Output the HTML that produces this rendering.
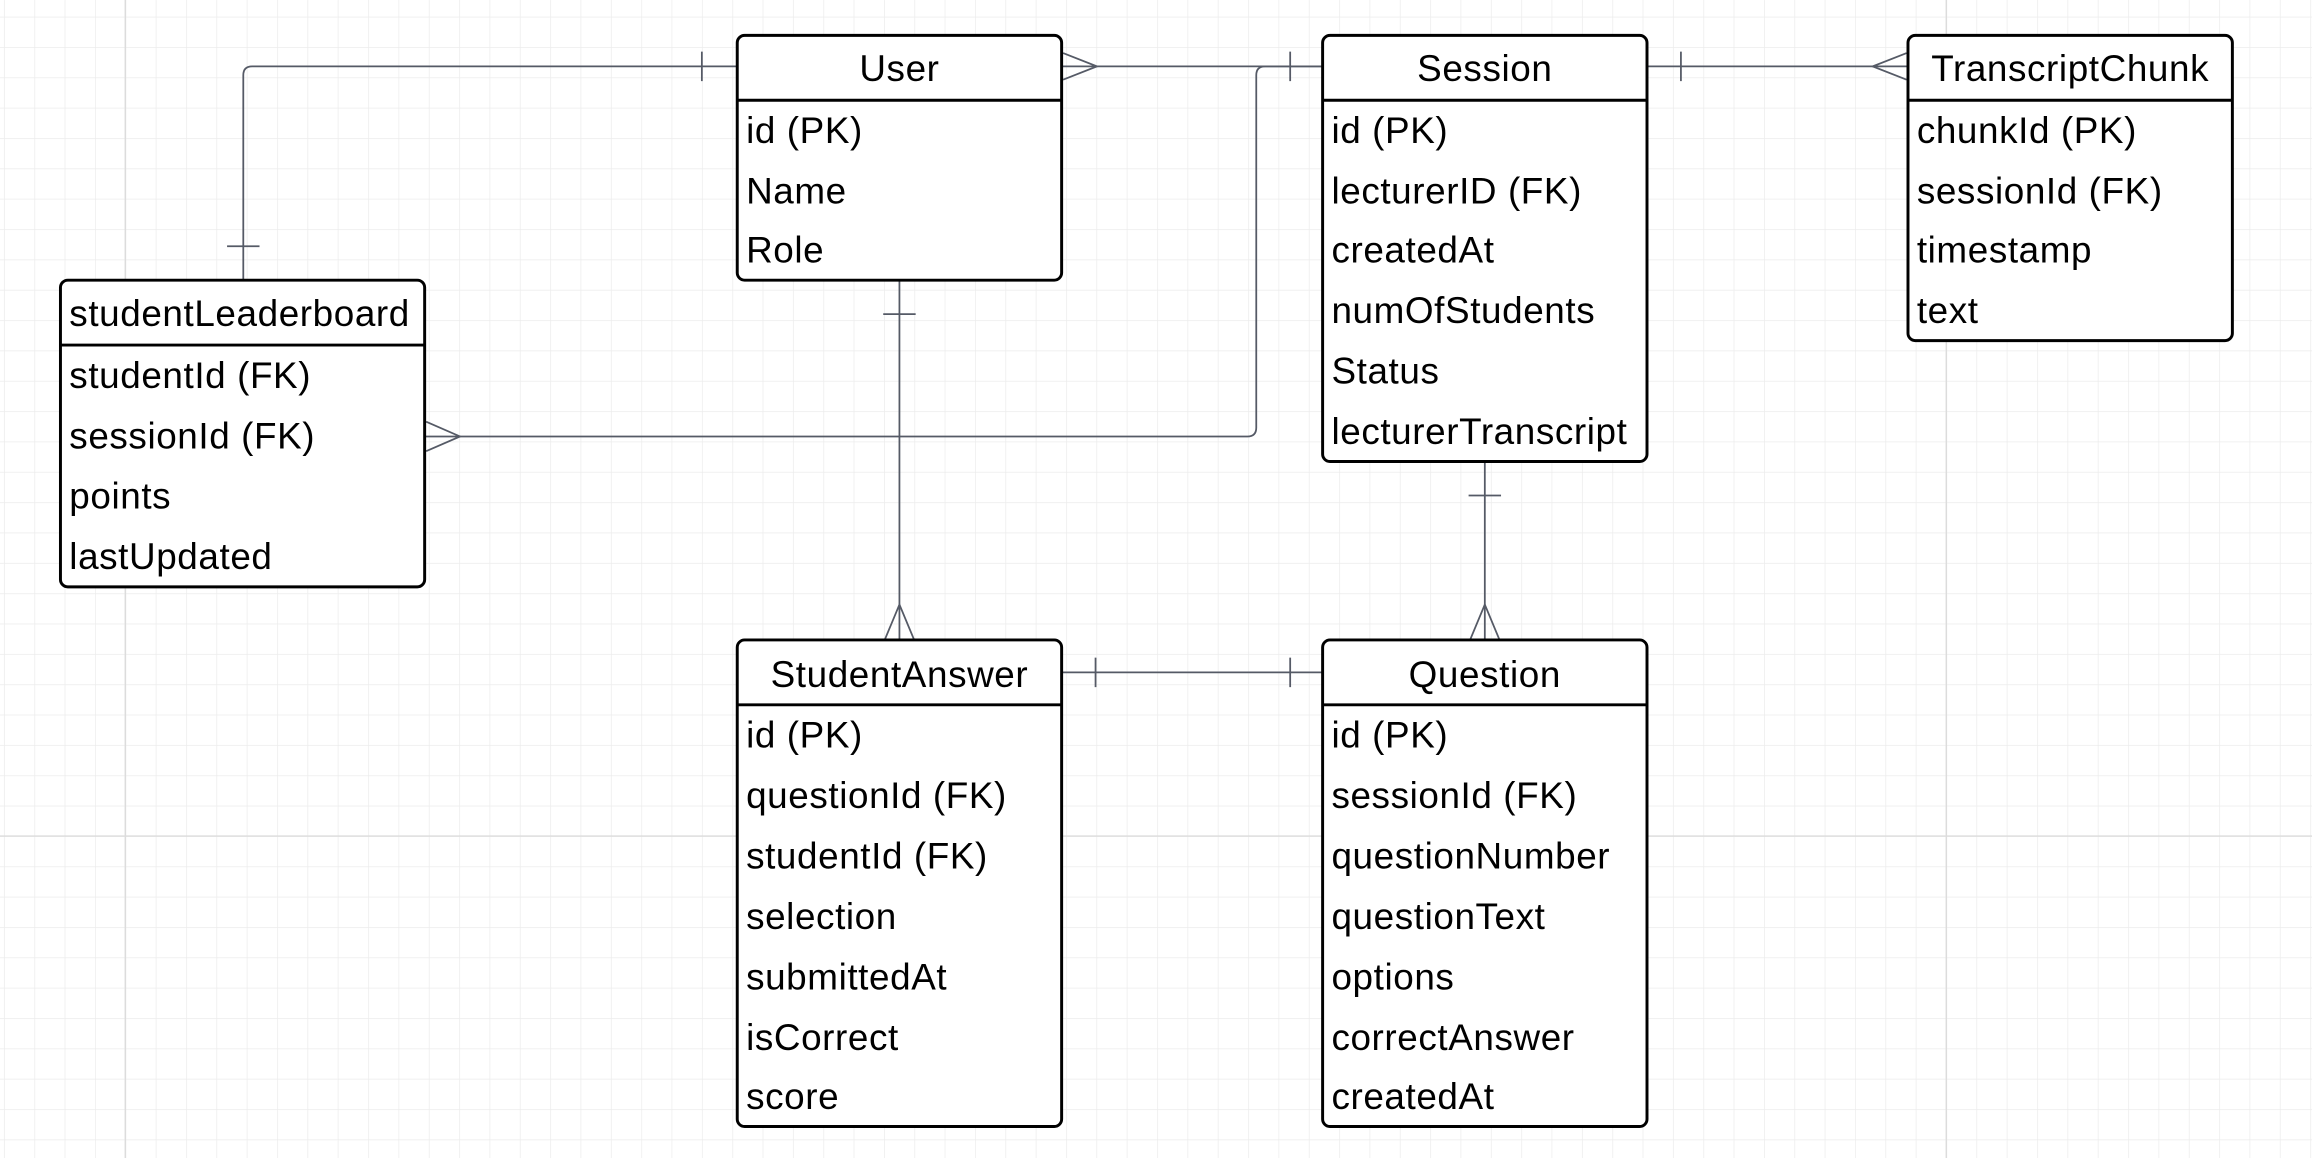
<!DOCTYPE html>
<html><head><meta charset="utf-8"><style>
html,body{margin:0;padding:0;background:#fff;}
svg{display:block;}
text{font-family:"Liberation Sans",sans-serif;font-size:25px;letter-spacing:0.4px;fill:#000;}
</style></head><body>
<svg width="2312" height="1158" viewBox="0 0 1568 785.33" xmlns="http://www.w3.org/2000/svg">
<defs>
<pattern id="g" x="2.7" y="11.3" width="20.58" height="20.58" patternUnits="userSpaceOnUse">
<path d="M0 0H20.58M0 0V20.58" stroke="#ececec" stroke-width="1" fill="none"/>
</pattern>
</defs>
<rect width="1568" height="786" fill="#fff"/>
<rect width="1568" height="786" fill="url(#g)"/>
<line x1="85" y1="0" x2="85" y2="786" stroke="#dcdcdc"/>
<line x1="1320" y1="0" x2="1320" y2="786" stroke="#dcdcdc"/>
<line x1="0" y1="567" x2="1568" y2="567" stroke="#dcdcdc"/>

<g stroke="#555a66" stroke-width="1.2" fill="none">
<path d="M500 45H171Q165 45 165 51V190"/>
<line x1="476" y1="35" x2="476" y2="55"/>
<line x1="154" y1="167" x2="176" y2="167"/>
<line x1="720" y1="45" x2="897" y2="45"/>
<path d="M721 36L744 45L721 54"/>
<line x1="875" y1="35" x2="875" y2="55"/>
<path d="M897 45H858Q852 45 852 51V290Q852 296 846 296H288"/>
<path d="M289 286L312 296L289 306"/>
<line x1="1117" y1="45" x2="1294" y2="45"/>
<line x1="1140" y1="35" x2="1140" y2="55"/>
<path d="M1293 36L1270 45L1293 54"/>
<line x1="610" y1="190" x2="610" y2="434"/>
<line x1="599" y1="213" x2="621" y2="213"/>
<path d="M600 434L610 410L620 434"/>
<line x1="1007" y1="313" x2="1007" y2="434"/>
<line x1="996" y1="336" x2="1018" y2="336"/>
<path d="M997 434L1007 410L1017 434"/>
<line x1="720" y1="456" x2="897" y2="456"/>
<line x1="743" y1="446" x2="743" y2="466"/>
<line x1="875" y1="446" x2="875" y2="466"/>
</g>

<g stroke="#000" stroke-width="2" fill="#fff">
<rect x="500" y="24" width="220" height="166" rx="5"/>
<line x1="500" y1="68" x2="720" y2="68"/>
<rect x="897" y="24" width="220" height="289" rx="5"/>
<line x1="897" y1="68" x2="1117" y2="68"/>
<rect x="1294" y="24" width="220" height="207" rx="5"/>
<line x1="1294" y1="68" x2="1514" y2="68"/>
<rect x="41" y="190" width="247" height="208" rx="5"/>
<line x1="41" y1="234" x2="288" y2="234"/>
<rect x="500" y="434" width="220" height="330" rx="5"/>
<line x1="500" y1="478" x2="720" y2="478"/>
<rect x="897" y="434" width="220" height="330" rx="5"/>
<line x1="897" y1="478" x2="1117" y2="478"/>
</g>

<g text-anchor="middle">
<text x="610" y="55">User</text>
<text x="1007" y="55">Session</text>
<text x="1404" y="55">TranscriptChunk</text>
<text x="610" y="466">StudentAnswer</text>
<text x="1007" y="466">Question</text>
</g>
<text x="47" y="221">studentLeaderboard</text>

<text x="506" y="97">id (PK)</text>
<text x="506" y="138">Name</text>
<text x="506" y="178">Role</text>

<text x="903" y="97">id (PK)</text>
<text x="903" y="138">lecturerID (FK)</text>
<text x="903" y="178">createdAt</text>
<text x="903" y="219">numOfStudents</text>
<text x="903" y="260">Status</text>
<text x="903" y="301">lecturerTranscript</text>

<text x="1300" y="97">chunkId (PK)</text>
<text x="1300" y="138">sessionId (FK)</text>
<text x="1300" y="178">timestamp</text>
<text x="1300" y="219">text</text>

<text x="47" y="263">studentId (FK)</text>
<text x="47" y="304">sessionId (FK)</text>
<text x="47" y="345">points</text>
<text x="47" y="386">lastUpdated</text>

<text x="506" y="507">id (PK)</text>
<text x="506" y="548">questionId (FK)</text>
<text x="506" y="589">studentId (FK)</text>
<text x="506" y="630">selection</text>
<text x="506" y="671">submittedAt</text>
<text x="506" y="712">isCorrect</text>
<text x="506" y="752">score</text>

<text x="903" y="507">id (PK)</text>
<text x="903" y="548">sessionId (FK)</text>
<text x="903" y="589">questionNumber</text>
<text x="903" y="630">questionText</text>
<text x="903" y="671">options</text>
<text x="903" y="712">correctAnswer</text>
<text x="903" y="752">createdAt</text>
</svg>
</body></html>
